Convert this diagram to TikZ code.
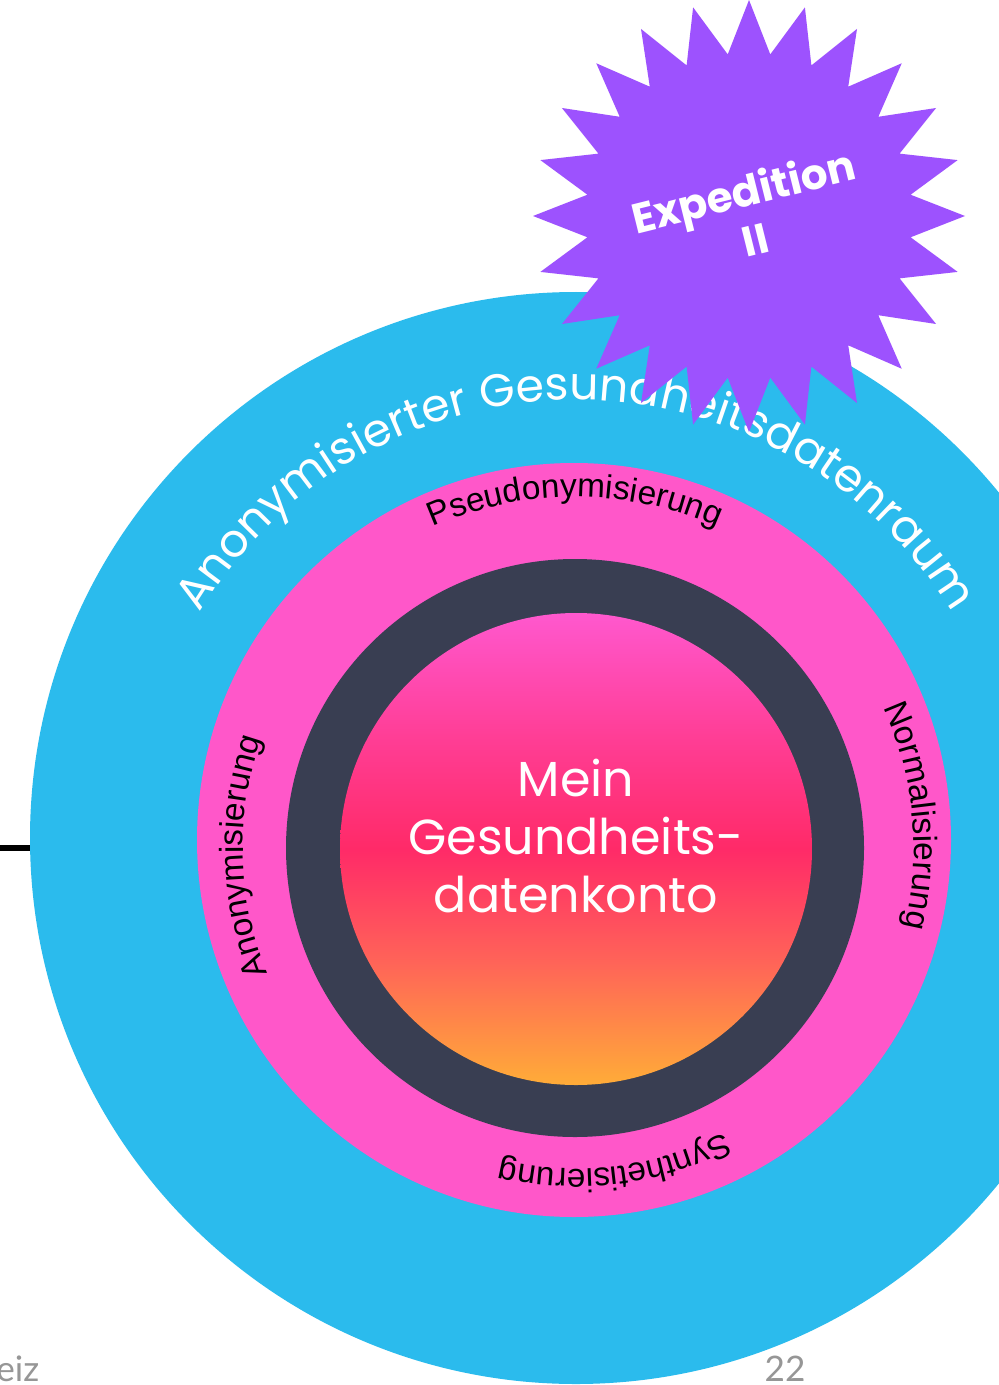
\documentclass[tikz,border=0pt]{standalone}
\usepackage{fontspec}
\setmainfont{Poppins}
\newfontfamily\ringfamily{Liberation Sans}
\newfontfamily\pagefamily{Lato}
\usetikzlibrary{decorations.text}

\definecolor{raumblue}{RGB}{43,187,237}
\definecolor{ringpink}{RGB}{255,87,201}
\definecolor{ringdark}{RGB}{57,62,82}
\definecolor{starpurple}{RGB}{157,82,254}
\definecolor{kontotop}{RGB}{255,88,206}
\definecolor{kontoup}{RGB}{255,62,150}
\definecolor{kontomid}{RGB}{255,42,104}
\definecolor{kontolow}{RGB}{255,100,88}
\definecolor{kontobot}{RGB}{255,172,56}
\definecolor{pagegray}{RGB}{150,150,150}

\pgfdeclareverticalshading{kontoshade}{100bp}{color(0bp)=(kontobot); color(25bp)=(kontobot);
  color(38bp)=(kontolow); color(50bp)=(kontomid); color(62bp)=(kontoup); color(75bp)=(kontotop); color(100bp)=(kontotop)}

\newcommand\outerfont{\fontsize{26}{30}\selectfont\color{white}}
\newcommand\ringfont{\ringfamily\fontsize{19}{21}\selectfont}

\begin{document}
\begin{tikzpicture}[x=0.02cm,y=0.02cm,
    ringlabel/.style={decorate,decoration={text along path,text align=center,text={|\ringfont|#1}}}]
\useasboundingbox (0,0) rectangle (999,-1385);
\clip (0,0) rectangle (999,-1385);
\fill[white] (0,0) rectangle (999,-1385);

\coordinate (lineL) at (-5,-848);
\coordinate (lineR) at (115,-848);
\draw[line width=2.9pt] (lineL) -- (lineR);

\fill[raumblue] (576,-838) circle[radius=546];
\path[decorate,decoration={text along path,text align=center,
      text={|\outerfont|Anonymisierter Gesundheitsdatenraum}}]
      (576,-838) ++(150:438) arc[start angle=150,end angle=30,radius=438];

\fill[ringpink] (574,-840) circle[radius=377];
\fill[ringdark] (575,-848) circle[radius=289];
\shade[shading=kontoshade] (576,-849) circle[radius=236];

\node[text=white,align=center,font=\fontsize{28}{33}\selectfont] (konto) at (576,-836)
     {Mein\\Gesundheits-\\datenkonto};

\path[ringlabel=Pseudonymisierung] (575,-848) ++(130:351) arc[start angle=130,end angle=50,radius=351];
\path[ringlabel=Normalisierung] (576,-848) ++(50:338) arc[start angle=50,end angle=-39,radius=338];
\path[ringlabel=Synthetisierung] (576,-848) ++(-38:321) arc[start angle=-38,end angle=-128,radius=321];
\path[ringlabel=Anonymisierung] (576,-848) ++(226:333) arc[start angle=226,end angle=137,radius=333];

\begin{scope}[shift={(749,-216)}]
  \fill[starpurple] (90:216) \foreach \a in {0,...,23} { -- ({90+15*\a}:216) -- ({97.5+15*\a}:163) } -- cycle;
  \node[text=white,align=center,rotate=14,font=\bfseries\fontsize{24}{28}\selectfont] (expedition) at (0,2)
       {Expedition\\II};
\end{scope}

\node[anchor=west,text=pagegray,font=\pagefamily\fontsize{20}{24}\selectfont,inner sep=0pt] (footer) at (-4,-1369) {eiz};
\node[text=pagegray,font=\pagefamily\fontsize{20}{24}\selectfont,inner sep=0pt] (pagenum) at (785,-1369) {22};
\end{tikzpicture}
\end{document}
